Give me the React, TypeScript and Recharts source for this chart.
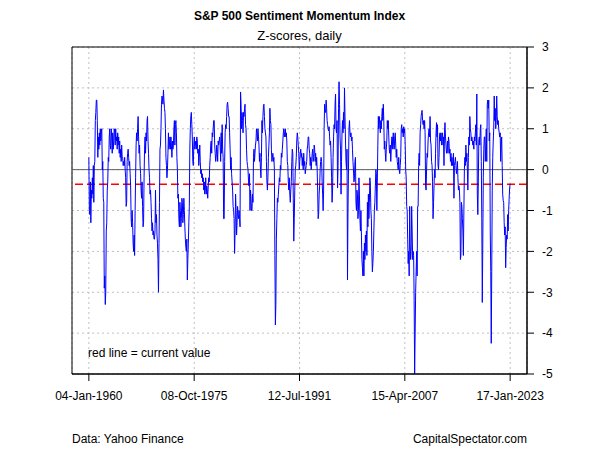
import React from 'react';
import { LineChart, Line, XAxis, YAxis, CartesianGrid, ReferenceLine, ReferenceArea } from 'recharts';

// first and last observation, as decimal years (04-Jan-1960 .. 17-Jan-2023)
const START = 1960.01;
const END = 2023.05;

const tickPos = [1960.01, 1975.77, 1991.53, 2007.29, 2023.05];
const tickLabels = ['04-Jan-1960', '08-Oct-1975', '12-Jul-1991', '15-Apr-2007', '17-Jan-2023'];
const yTicks = [-5, -4, -3, -2, -1, 0, 1, 2, 3];
const currentValue = -0.36;

// z-scores, evenly spaced in time
const z1960_1969 = [
  0.3, -1.0, -1.1, -0.3, -1.3, -0.5, -0.7, -0.2, -0.6, 0.1, -0.8, 0.1, 0.2, 1.2, 1.4, 1.7, 1.7, 1.2,
  0.3, 0.8, 0.5, 0.9, 0.6, 1.0, 0.7, 0.9, 1.0, 0.0, 0.2, -0.7, -0.8, -2.9, -2.6, -3.3, -3.0, -1.5,
  -1.3, -0.5, -0.3, 0.3, 0.2, 0.8, 1.0, 0.6, 0.5, 1.0, 0.8, 0.4, 0.9, 0.5, 0.7, 1.0, 0.9, 0.6,
  1.0, 0.7, 0.8, 0.5, 0.9, 0.6, 0.8, 0.4, 0.7, 0.3, 0.5, 0.2, 0.6, 0.3, 0.3, 0.1, 0.2, 0.1,
  0.3, 0.0, -0.2, -0.9, -0.8, 0.2, 0.4, 0.5, 0.3, 0.1, 0.2, -0.1, -0.4, -1.2, -1.4, -1.0,
  -1.3, -1.8, -2.0, -1.6, -2.1, -1.0, -0.2, 0.6, 0.9, 0.7, 1.0, 1.3, 0.8, 0.4, 0.6, 0.1,
  -0.1, -0.5, -0.7, -0.3, -0.9, -1.4, -1.3, -0.2, 0.5, 0.8, 0.4, 0.9, 0.7, 1.2, 1.3, 0.7,
  0.4, 0.0, -0.2, -0.6, -0.5, -0.8, -1.2, -1.5, -1.3, -1.6, -1.5, -1.7, -1.7, -1.5,
];

const z1970_1982 = [
  -0.5, -1.3, -1.1, -1.6, -1.8, -2.2, -3.0, -1.8, -0.8, 0.5, 0.6, 1.0, 1.6, 1.8, 1.75, 1.6,
  1.95, 1.7, 1.5, 1.4, 1.0, 0.3, 0.1, -0.2, 0.0, 0.4, 0.9, 0.5, 0.6, 0.8, 0.5, 0.8,
  0.6, 0.3, 0.7, 0.5, 0.6, 1.0, 1.2, 0.6, 1.1, 1.2, 0.9, 0.3, 0.0, -0.7, -0.6, -1.2,
  -1.4, -0.8, -1.0, -1.4, -1.2, -0.7, -0.8, -1.3, -1.1, -0.7, -1.0, -1.4, -1.7, -1.9,
  -2.0, -1.7, -2.7, -2.2, -1.8, -1.3, -0.9, 0.5, 1.0, 1.3, 1.4, 1.1, 0.8, 0.2, 0.1, 0.6,
  0.8, 0.5, 0.6, 0.7, 0.5, 0.8, 0.7, 0.4, 0.5, 0.1, 0.3, 0.6, 0.2, -0.1, 0.0, -0.2,
  -0.1, -0.3, -0.2, -0.5, -0.3, -0.6, -0.5, -0.2, -0.6, -0.4, -0.5, -0.7, -0.4, -0.2,
  -0.3, 0.1, 0.3, 0.6, 0.7, 0.4, 0.9, 0.8, 1.0, 1.2, 1.2, 0.6, 0.4, 0.2, 0.3, 0.6,
  0.5, 0.2, 0.7, 0.6, 0.7, 0.8, 0.6, 0.2, 0.9, 0.4, 1.1, 0.5, 0.3, -1.2, -1.2, 0.2,
  0.9, 1.1, 1.0, 1.3, 1.6, 1.65, 1.5, 1.3, 1.3, 0.9, 0.5, 0.0, 0.3, -0.1, -0.3, -0.5,
  -0.9, -1.0, -1.2, -2.05, -1.5, -0.6, -1.0, -1.6, -1.3, -0.9, -1.1, -1.2, -1.0, -1.2,
];

const z1982_1995 = [
  -1.4, 1.9, 1.6, 1.0, 1.4, 1.2, 0.9, 1.4, 1.3, 1.5, 1.6, 1.1, 1.0, 0.5, 0.2, 0.1,
  0.0, -0.3, -0.4, -0.1, -1.0, -0.5, -0.7, -1.0, -1.0, -0.6, -0.8, 0.3, 0.5, 0.2,
  0.4, 0.6, 0.7, 1.0, 0.9, 0.7, 1.0, 0.8, 0.6, 0.2, 0.4, 0.0, -0.2, 0.3, 1.2, 0.9,
  1.3, 1.55, 1.6, 1.3, 1.0, 0.9, 0.8, 0.2, -0.3, -0.5, -0.2, 0.3, 0.6, 0.9, 1.5, 1.2,
  1.1, 0.5, 0.2, 0.3, 0.4, 0.2, 0.3, 0.0, -2.1, -3.8, -3.3, -1.7, -1.2, -0.7, -0.8, -0.6,
  -0.4, -0.2, -0.3, 0.1, 0.0, 0.4, 0.3, 0.5, 0.7, 0.9, 1.0, 0.8, 0.9, 1.0, 0.8, 0.9,
  0.7, 0.2, 0.1, -0.3, -0.5, -0.2, -0.6, -0.8, -0.5, -0.3, 0.2, 0.5, 0.4, -0.7,
  -1.75, -1.2, -0.5, 0.0, 0.1, 0.3, 0.7, 0.9, 0.8, 0.6, 0.4, 0.0, 0.2, 0.4, 0.5, 0.3,
  0.4, 0.1, 0.3, 0.0, 0.4, 0.1, 0.2, -0.1, 0.0, 0.1, 0.2, 0.5, 0.6, 0.8, 0.8, 0.5,
  0.4, 0.1, 0.3, 0.0, 0.2, 0.4, 0.5, 0.2, 0.3, 0.6, 0.5, 0.2, 0.4, 0.1, 0.3, 0.0,
  -0.5, -1.2, -1.1, -0.6, -0.4, 0.0, 0.2, 0.3, 0.2, -0.3, -0.6, -1.0, -0.5, 1.0,
];

const z1995_2007 = [
  1.6, 1.4, 1.4, 1.7, 1.5, 1.2, 1.1, 1.0, 0.95, 1.05, 0.8, 0.6, 0.7, 0.3, -0.2, -0.8,
  -0.5, 0.3, 0.8, 1.1, 1.0, 1.6, 1.85, 1.0, 0.9, 1.2, -0.45, 0.1, 1.5, 2.15, 1.6, 0.8,
  0.5, -0.6, 0.2, 0.9, 1.2, 0.9, 1.4, 1.0, 2.0, 1.3, 0.7, 0.2, 0.0, 0.5, -2.7, -1.0,
  0.0, 1.0, 1.2, 0.9, 0.8, 0.9, 0.7, 0.8, 0.5, 0.2, 0.0, -0.3, -0.2, 0.2, 0.3, -0.8,
  -1.0, -0.5, -0.6, -1.2, -1.0, -0.2, -0.6, -1.2, -1.5, -1.0, -1.6, -2.2, -2.4, -2.6,
  -2.0, -2.6, -1.8, -2.2, -1.6, -2.0, -1.5, -2.1, -0.8, -1.4, -0.6, -1.2, -0.8, -0.2,
  -0.4, -1.0, -1.2, -2.0, -2.5, -2.3, -2.0, -1.5, -1.0, -0.8, -0.4, 0.0, -0.1, -1.0,
  -0.3, 0.6, 1.3, 1.0, 1.3, 1.1, 0.9, 1.2, 1.0, 1.3, 1.5, 1.2, 1.6, 1.2, 0.5, 0.7,
  0.4, 0.2, 0.5, 0.7, 1.2, 1.0, 1.2, 0.8, 0.5, 0.4, 0.6, 0.2, 0.5, 0.8, 0.8, 0.5,
  0.9, 0.6, 0.5, 0.8, 0.9, 0.6, 0.3, 0.5, 0.2, 0.1, 0.0, 0.3, 0.0, -0.1, 0.1, 0.3,
  1.0, 1.1, 0.9, 1.0, 0.8, 1.05, 0.9, 1.0, 0.6, 0.0, -0.2, -0.9, -1.0, -1.7, -2.3, -2.0,
];

const z2008_2019 = [
  -2.6, -0.9, -1.8, -2.2, -2.0, -0.9, -1.5, -2.2, -2.0, -2.1, -3.2, -5.0, -4.0, -3.0,
  -2.5, -2.0, -2.6, -0.9, -0.9, 0.1, 0.4, 0.1, 0.9, 1.1, 1.3, 1.4, 1.45, 1.2, 1.1, 1.2,
  1.0, 1.2, 0.9, -0.4, -0.5, 0.0, 0.4, 0.3, 0.7, 0.9, 1.0, 0.8, 1.3, 0.7, 0.6, 0.2,
  0.1, -0.3, -1.2, -0.8, -0.4, 0.0, -0.2, 0.4, 0.9, 1.15, 0.8, 1.1, 0.1, 0.0, 0.3, 0.8,
  0.9, 0.7, 0.9, 0.6, 0.8, 0.9, 0.6, 0.8, 0.1, 0.9, 1.15, 0.8, 0.6, 0.4, 0.5, 0.7,
  0.4, 0.8, 0.7, 0.4, 0.5, 0.2, 0.4, 0.1, 0.3, 0.1, 0.2, 0.4, -0.7, 0.1, 0.2, 0.3,
  0.1, -0.1, 0.0, 0.2, -0.2, -0.5, -0.4, -0.5, -0.8, -2.2, -2.1, -0.8, -0.9, -1.2,
  -1.5, -2.1, -1.0, 0.0, 0.3, 0.1, 0.6, 0.2, 0.4, 0.0, -0.5, 0.3, 0.8, 0.6, 1.3, 1.0,
  0.9, 0.7, 0.8, 0.7, 0.6, 0.7, 0.5, 0.8, 0.7, 0.9, 1.1, 0.6, 1.85, -0.6, -1.1, -0.3,
  0.7, 0.8, 0.6, 1.0, 1.1, 0.2, -1.2, -3.25, -1.8, -0.2, 0.5, 0.8, 0.8, 0.2, 0.6, 1.0,
  0.2, 1.6, 1.7, 1.5,
];

const z2020_2023 = [
  1.7, 0.7, 0.9, -1.5, -2.5, -4.25, -2.5, -0.5, 0.3, 0.7, 1.0, 1.8, 1.2, 1.5, 1.0, 1.2,
  1.8, 1.3, 1.1, 1.2, 1.0, 0.9, 0.8, 0.9, 0.2, 0.6, 0.8, 0.1, -0.6, -0.75, -0.8, -1.3,
  -1.6, -1.4, -2.4, -1.9, -1.6, -1.7, -1.1, -1.5, -1.0, -0.7, -0.45, -0.35,
];

const zAll = [...z1960_1969, ...z1970_1982, ...z1982_1995, ...z1995_2007, ...z2008_2019, ...z2020_2023];
const data = zAll.map((z, i) => ({ t: START + (i * (END - START)) / (zAll.length - 1), z }));

const pad = (END - START) * 0.04;
const xMin = START - pad;
const xMax = END + pad;

const font = 'Arial, "Liberation Sans", sans-serif';

const App: React.FC = () => {
  const labelFor = (v: number) => {
    const i = tickPos.indexOf(v);
    return i >= 0 ? tickLabels[i] : '';
  };

  return (
    <div style={{ position: 'absolute', left: 0, top: 0, width: 600, height: 450, background: '#fff', fontFamily: font }}>
      <div style={{ position: 'absolute', left: 72, width: 455, top: 9, textAlign: 'center', fontSize: 12, fontWeight: 'bold' }}>
        S&amp;P 500 Sentiment Momentum Index
      </div>
      <div style={{ position: 'absolute', left: 72, width: 455, top: 28, textAlign: 'center', fontSize: 13 }}>
        Z-scores, daily
      </div>
      <LineChart width={600} height={450} data={data} margin={{ top: 47, right: 33, bottom: 46, left: 72 }}>
        <CartesianGrid stroke="#c0c0c0" strokeDasharray="2 3" />
        <XAxis
          dataKey="t"
          type="number"
          domain={[xMin, xMax]}
          ticks={tickPos}
          interval={0}
          allowDataOverflow
          height={30}
          tickSize={7}
          tickMargin={10}
          stroke="#000"
          tick={{ fill: '#000', fontSize: 12, fontFamily: font }}
          tickFormatter={labelFor}
        />
        <YAxis
          orientation="right"
          type="number"
          domain={[-5, 3]}
          ticks={yTicks}
          interval={0}
          allowDataOverflow
          width={40}
          tickSize={7}
          tickMargin={8}
          stroke="#000"
          tick={{ fill: '#000', fontSize: 12, fontFamily: font }}
        />
        <ReferenceLine y={0} stroke="#606060" strokeWidth={1} />
        <ReferenceLine y={currentValue} stroke="#ff0000" strokeWidth={1.5} strokeDasharray="8 4" />
        <Line type="linear" dataKey="z" stroke="#0000ff" strokeWidth={1} dot={false} isAnimationActive={false} />
        <ReferenceArea x1={xMin} x2={xMax} y1={-5} y2={3} fill="none" stroke="#000" strokeWidth={1} />
      </LineChart>
      <div style={{ position: 'absolute', left: 88, top: 346, fontSize: 12 }}>red line = current value</div>
      <div style={{ position: 'absolute', left: 72, top: 432, fontSize: 12 }}>Data: Yahoo Finance</div>
      <div style={{ position: 'absolute', right: 73, top: 432, fontSize: 12 }}>CapitalSpectator.com</div>
    </div>
  );
};

export default App;
